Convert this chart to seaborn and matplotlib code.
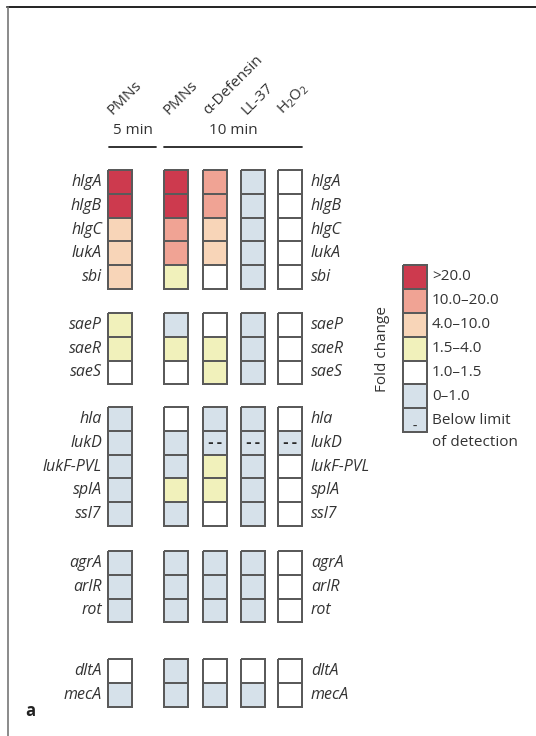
import numpy as np
import pandas as pd
import matplotlib
matplotlib.use("Agg")
import matplotlib.pyplot as plt
from matplotlib.colors import ListedColormap
from matplotlib.lines import Line2D
import seaborn as sns

sns.set_theme(style="white")
plt.rcParams["font.family"] = ["Open Sans", "DejaVu Sans"]
plt.rcParams["mathtext.fontset"] = "custom"
plt.rcParams["mathtext.rm"] = "Open Sans"
plt.rcParams["mathtext.it"] = "Open Sans:italic"

# Genes, grouped as in the panel
genes = ["hlgA", "hlgB", "hlgC", "lukA", "sbi",
         "saeP", "saeR", "saeS",
         "hla", "lukD", "lukF-PVL", "splA", "ssl7",
         "agrA", "arlR", "rot",
         "dltA", "mecA"]
group_sizes = [5, 3, 5, 3, 2]

conditions = ["PMNs", "PMNs", "α-Defensin", "LL-37", "H$_2$O$_2$"]
times = ["5 min", "10 min"]

# Fold-change class per gene: 0 below limit of detection, 1 = 0–1.0,
# 2 = 1.0–1.5, 3 = 1.5–4.0, 4 = 4.0–10.0, 5 = 10.0–20.0, 6 = >20.0
pmn_5min = [6, 6, 4, 4, 4, 3, 3, 2, 1, 1, 1, 1, 1, 1, 1, 1, 2, 1]
pmn_10min = [6, 6, 5, 5, 3, 1, 3, 2, 2, 1, 1, 3, 1, 1, 1, 1, 1, 1]
defensin = [5, 5, 4, 4, 2, 2, 3, 3, 1, 0, 3, 3, 2, 1, 1, 1, 2, 1]
ll37 = [1, 1, 1, 1, 1, 1, 1, 1, 1, 0, 1, 1, 1, 1, 1, 1, 2, 1]
h2o2 = [2, 2, 2, 2, 2, 2, 2, 2, 2, 0, 2, 2, 2, 2, 2, 2, 2, 2]

class_labels = [">20.0", "10.0–20.0", "4.0–10.0", "1.5–4.0", "1.0–1.5",
                "0–1.0", "Below limit\nof detection"]
class_codes = [6, 5, 4, 3, 2, 1, 0]
class_colors = ["#d6e1ea", "#d6e1ea", "#ffffff", "#f1f1bb",
                "#f8d5b8", "#f0a394", "#cd3a4e"]

cmap = ListedColormap(class_colors)
table = pd.DataFrame({"c1": pmn_5min, "c2": pmn_10min, "c3": defensin,
                      "c4": ll37, "c5": h2o2}, index=genes)

W, H = 536, 736
fig = plt.figure(figsize=(W / 100, H / 100), dpi=100)
TXT = "#333333"
EDGE = "#5a5a5a"
FS = 11


def px_axes(x, y, w, h):
    return fig.add_axes([x / W, 1 - (y + h) / H, w / W, h / H])


def px_text(x, y, s, **kw):
    kw.setdefault("color", TXT)
    return fig.text(x / W, 1 - y / H, s, **kw)


def draw_block(ax, values, annot):
    sns.heatmap(values, ax=ax, cmap=cmap, vmin=-0.5, vmax=6.5, cbar=False,
                linewidths=1.4, linecolor=EDGE, annot=annot, fmt="",
                annot_kws={"color": "#2a2a2a", "fontsize": 10,
                           "fontweight": "bold", "family": "DejaVu Sans"},
                xticklabels=False, yticklabels=False)
    ax.collections[0].set_clip_on(False)
    for t in ax.texts:
        t.set_clip_on(False)


# layout in pixels
col_left = [108, 164, 203, 241, 278]
cell_w = 24
row_h = 23.8
group_top = [170, 313, 407, 551, 659]

start = 0
for gi, n in enumerate(group_sizes):
    sub = table.iloc[start:start + n]
    top = group_top[gi]
    for ci, col in enumerate(table.columns):
        vals = sub[[col]].to_numpy()
        annot = np.where(vals == 0, "-\u2009-", "")
        ax = px_axes(col_left[ci], top, cell_w, row_h * n)
        draw_block(ax, vals, annot)
        ax.set_axis_off()
    for ri, g in enumerate(sub.index):
        yc = top + row_h * (ri + 0.5)
        px_text(102, yc, g, ha="right", va="center", fontsize=11.5,
                style="italic")
        px_text(311, yc, g, ha="left", va="center", fontsize=11.5,
                style="italic")
    start += n

# column headers
for ci, name in enumerate(conditions):
    px_text(col_left[ci] + 5, 115, name, ha="left", va="baseline",
            rotation=45, rotation_mode="anchor", fontsize=11)

# time brackets
px_text(132.5, 131, times[0], ha="center", va="center", fontsize=FS)
px_text(233, 131, times[1], ha="center", va="center", fontsize=FS)
for x0, x1 in [(109, 156), (164, 302)]:
    fig.add_artist(Line2D([x0 / W, x1 / W], [1 - 147 / H, 1 - 147 / H],
                          color="#222222", lw=1.3))

# legend
leg_vals = np.array(class_codes).reshape(-1, 1)
lax = px_axes(403, 265, 24, 23.9 * 7)
draw_block(lax, leg_vals, np.full(leg_vals.shape, ""))
lax.set_axis_off()
lax.text(0.5, 6.75, "–", ha="center", va="center", fontsize=6,
         color="#333333", fontweight="bold")
for i, lab in enumerate(class_labels):
    yc = 265 + 23.9 * (i + 0.5)
    if "\n" in lab:
        first, second = lab.split("\n")
        px_text(432, yc, first, ha="left", va="center", fontsize=FS)
        px_text(432, yc + 22, second, ha="left", va="center", fontsize=FS)
    else:
        px_text(432, yc, lab, ha="left", va="center", fontsize=FS)
px_text(383, 349, "Fold change", ha="center", va="center", rotation=90,
        fontsize=FS)

# panel letter and frame
px_text(30, 711, "a", ha="center", va="center", fontsize=12,
        fontweight="bold", color="#222222")
fig.add_artist(Line2D([7 / W, 1], [1 - 7 / H, 1 - 7 / H], color="#222222",
                      lw=1.4))
fig.add_artist(Line2D([7.5 / W, 7.5 / W], [1 - 7 / H, 0], color="#777777",
                      lw=1.2))

fig.savefig("out.png", dpi=100)
